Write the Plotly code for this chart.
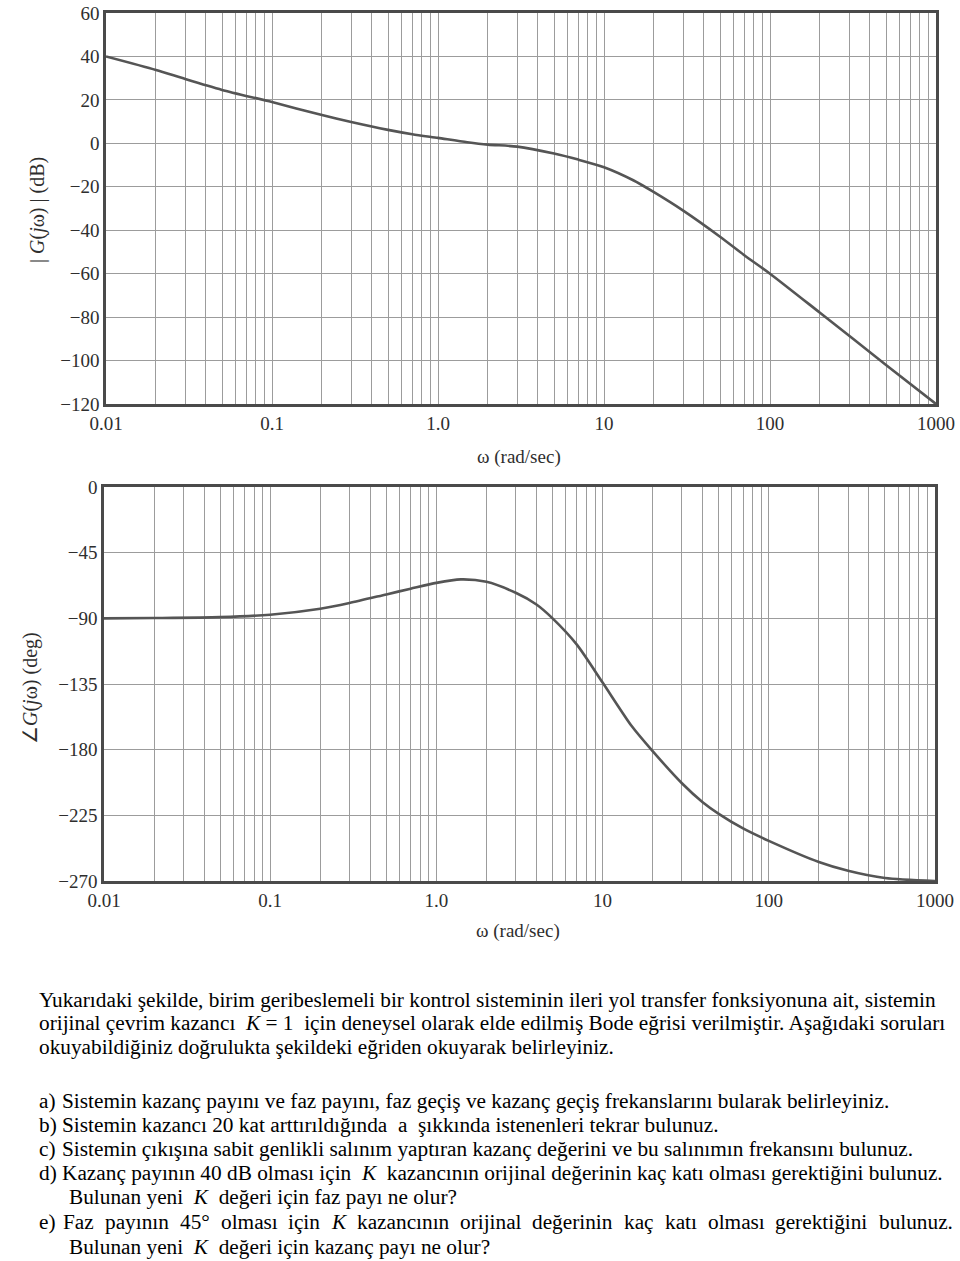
import plotly.graph_objects as go

# ---------------- data ----------------
freq_mag = [0.01, 0.02, 0.03, 0.05, 0.1, 0.2, 0.3, 0.5, 0.7, 1.0, 1.5, 2.0, 3.0, 5.0, 7.0,
            10, 15, 20, 30, 50, 70, 100, 200, 500, 1000]
mag_db = [40, 33.8, 29.6, 24.6, 19, 13, 9.8, 6.2, 4.2, 2.5, 0.5, -0.6, -1.5, -4.7, -7.5,
          -11, -17, -22.5, -31, -43, -51.5, -60, -78, -102, -120]

freq_phase = [0.01, 0.02, 0.05, 0.1, 0.2, 0.3, 0.5, 0.7, 1.0, 1.4, 2.0, 3.0, 4.0, 5.0, 7.0,
              10, 15, 20, 30, 40, 50, 70, 100, 200, 300, 500, 1000]
phase_deg = [-90, -89.8, -89.2, -87.5, -83.4, -79.5, -73.6, -69.7, -65.7, -63.3, -65, -72.5,
             -80.5, -90, -108, -134, -164, -181, -203, -216, -224, -234, -242.5, -257, -263, -268, -270]

x_decades = [0.01, 0.1, 1, 10, 100, 1000]
x_tick_labels = ["0.01", "0.1", "1.0", "10", "100", "1000"]
x_minor = [d * m for d in x_decades[:-1] for m in range(2, 10)]
mag_ticks = [60, 40, 20, 0, -20, -40, -60, -80, -100, -120]
mag_tick_labels = ["60", "40", "20", "0", "\u221220", "\u221240", "\u221260", "\u221280", "\u2212100", "\u2212120"]
phase_ticks = [0, -45, -90, -135, -180, -225, -270]
phase_tick_labels = ["0", "\u221245", "\u221290", "\u2212135", "\u2212180", "\u2212225", "\u2212270"]

para_lines = [
    "Yukarıdaki şekilde, birim geribeslemeli bir kontrol sisteminin ileri yol transfer fonksiyonuna ait, sistemin",
    "orijinal çevrim kazancı  <i>K</i> = 1  için deneysel olarak elde edilmiş Bode eğrisi verilmiştir. Aşağıdaki soruları",
    "okuyabildiğiniz doğrulukta şekildeki eğriden okuyarak belirleyiniz.",
]
question_lines = [
    ("a)", "Sistemin kazanç payını ve faz payını, faz geçiş ve kazanç geçiş frekanslarını bularak belirleyiniz."),
    ("b)", "Sistemin kazancı 20 kat arttırıldığında  a  şıkkında istenenleri tekrar bulunuz."),
    ("c)", "Sistemin çıkışına sabit genlikli salınım yaptıran kazanç değerini ve bu salınımın frekansını bulunuz."),
    ("d)", "Kazanç payının 40 dB olması için  <i>K</i>  kazancının orijinal değerinin kaç katı olması gerektiğini bulunuz."),
    ("", "Bulunan yeni  <i>K</i>  değeri için faz payı ne olur?"),
    ("e)", None),
    ("", "Bulunan yeni  <i>K</i>  değeri için kazanç payı ne olur?"),
]
# justified line e): words with their horizontal positions (px)
e_words = ["Faz", "payının", "45°", "olması", "için", "<i>K</i>", "kazancının", "orijinal",
           "değerinin", "kaç", "katı", "olması", "gerektiğini", "bulunuz."]
e_word_x = [61, 103, 178, 218.5, 286, 329, 354.5, 458, 530, 622, 662.5, 705.5, 773, 876.5]

# ---------------- figure ----------------
W, H = 960, 1261
SERIF = "Liberation Serif, Times New Roman, serif"
GRID = "#9c9c9c"
FRAME = "#4a4a4a"
CURVE = "#555555"
TXT = "#2e2e2e"
BODY = 21.3


def py(px):
    return 1 - px / H


def pxx(px):
    return px / W


fig = go.Figure()
fig.add_trace(go.Scatter(x=freq_mag, y=mag_db, mode="lines", xaxis="x", yaxis="y",
                         line=dict(color=CURVE, width=2.6, shape="spline", smoothing=0.7),
                         showlegend=False, hoverinfo="skip"))
fig.add_trace(go.Scatter(x=freq_phase, y=phase_deg, mode="lines", xaxis="x2", yaxis="y2",
                         line=dict(color=CURVE, width=2.6, shape="spline", smoothing=0.7),
                         showlegend=False, hoverinfo="skip"))

xcommon = dict(type="log", range=[-2, 3], tickmode="array", tickvals=x_decades,
               ticktext=x_tick_labels, showgrid=True, gridcolor=GRID, gridwidth=1,
               minor=dict(tickmode="array", tickvals=x_minor, showgrid=True,
                          gridcolor=GRID, gridwidth=1, ticks=""),
               showline=True, mirror=True, linecolor=FRAME, linewidth=2.5,
               ticks="", zeroline=False, automargin=False,
               tickfont=dict(family=SERIF, size=19, color=TXT))
ycommon = dict(showgrid=True, gridcolor=GRID, gridwidth=1, showline=True, mirror=True,
               linecolor=FRAME, linewidth=2.5, ticks="", zeroline=False, automargin=False,
               tickfont=dict(family=SERIF, size=19, color=TXT), tickmode="array")

fig.update_layout(
    width=W, height=H, margin=dict(l=0, r=0, t=0, b=0, autoexpand=False),
    paper_bgcolor="white", plot_bgcolor="white",
    xaxis=dict(xcommon, domain=[pxx(106), pxx(936)], anchor="y"),
    yaxis=dict(ycommon, domain=[py(404), py(13)], range=[-120, 60], anchor="x",
               tickvals=mag_ticks, ticktext=mag_tick_labels),
    xaxis2=dict(xcommon, domain=[pxx(104), pxx(935)], anchor="y2"),
    yaxis2=dict(ycommon, domain=[py(881), py(487)], range=[-270, 0], anchor="x2",
                tickvals=phase_ticks, ticktext=phase_tick_labels),
)


def label(text, xpx, ypx, size=19, angle=0):
    return dict(text=text, x=pxx(xpx), y=py(ypx), xref="paper", yref="paper",
                xanchor="center", yanchor="middle", showarrow=False, textangle=angle,
                font=dict(family=SERIF, size=size, color=TXT))


ann = [
    label("ω (rad/sec)", 519, 457),
    label("ω (rad/sec)", 518, 931),
    label("| <i>G</i>(<i>j</i>ω) | (dB)", 38, 210, size=20, angle=-90),
    label("∠<i>G</i>(<i>j</i>ω) (deg)", 31, 688, size=20, angle=-90),
]


def body(text, xpx, ypx):
    return dict(text=text, x=pxx(xpx), y=py(ypx), xref="paper", yref="paper", xanchor="left",
                yanchor="middle", showarrow=False, font=dict(family=SERIF, size=BODY, color="#000"))


para_y = [1000, 1023, 1047]
for t, yy in zip(para_lines, para_y):
    ann.append(body(t, 37, yy))

q_y = [1101, 1125, 1149, 1173, 1197, 1222, 1247]
for (lab, t), yy in zip(question_lines, q_y):
    if lab:
        ann.append(body(lab, 37, yy))
        xs = 60
    else:
        xs = 67
    if t is None:
        for w, wx in zip(e_words, e_word_x):
            ann.append(body(w, wx, yy))
    else:
        ann.append(body(t, xs, yy))

fig.update_layout(annotations=ann)
fig.write_html("out.html")
